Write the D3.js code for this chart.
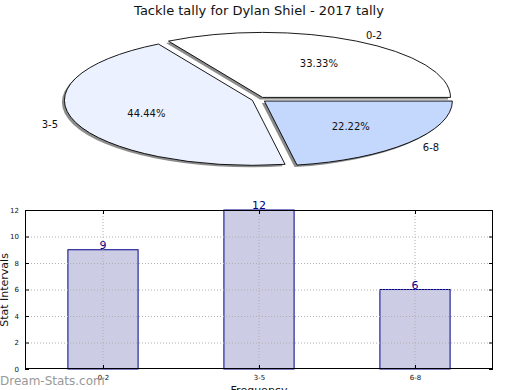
<!DOCTYPE html>
<html><head><meta charset="utf-8">
<script src="https://cdn.jsdelivr.net/npm/d3@7"></script>
<style>body{margin:0;background:#fff}svg{display:block}text{font-family:"DejaVu Sans",sans-serif}</style>
</head><body>
<svg id="c" width="520" height="390"></svg>
<script>
const categories = ["0-2", "3-5", "6-8"];
const values = [9, 12, 6];
const pieColors = ["#ffffff", "#ebf1fe", "#c4d8fd"];
const yTicks = [0, 2, 4, 6, 8, 10, 12];
const title = "Tackle tally for Dylan Shiel - 2017 tally";

const svg = d3.select("#c");
const W = 520;

svg.append("text").attr("x", 259).attr("y", 15).attr("text-anchor", "middle")
  .attr("font-size", 13).attr("fill", "#111").text(title);

// ---------- Pie ----------
const cx = 259, cy = 99.5, rx = 188, ry = 65, explode = 7;
const total = d3.sum(values);
const pie = d3.pie().sort(null).value(d => d)
  .startAngle(Math.PI / 2).endAngle(Math.PI / 2 - 2 * Math.PI); // counter-clockwise from east
const arcs = pie(values);
const arcGen = d3.arc().innerRadius(0).outerRadius(rx);
const sy = ry / rx;
// d3 angle: 0 at 12 o'clock, clockwise. math angle = PI/2 - a
function pt(mathAng, k) { return [Math.cos(mathAng) * rx * k, -Math.sin(mathAng) * ry * k]; }

const pieG = svg.append("g");
arcs.forEach((a, i) => {
  const s = Math.min(a.startAngle, a.endAngle), e = Math.max(a.startAngle, a.endAngle);
  const mid = (s + e) / 2;
  const mathMid = Math.PI / 2 - mid;
  const ox = Math.cos(mathMid) * explode, oy = -Math.sin(mathMid) * explode * sy;
  const d = arcGen({startAngle: s, endAngle: e});
  // shadow
  pieG.append("path").attr("d", d)
    .attr("transform", `translate(${cx + ox - 2.5},${cy + oy + 2}) scale(1,${sy})`)
    .attr("fill", "#8c8c8c").attr("stroke", "none");
});
arcs.forEach((a, i) => {
  const s = Math.min(a.startAngle, a.endAngle), e = Math.max(a.startAngle, a.endAngle);
  const mid = (s + e) / 2;
  const mathMid = Math.PI / 2 - mid;
  const ox = Math.cos(mathMid) * explode, oy = -Math.sin(mathMid) * explode * sy;
  const d = arcGen({startAngle: s, endAngle: e});
  pieG.append("path").attr("d", d)
    .attr("transform", `translate(${cx + ox},${cy + oy}) scale(1,${sy})`)
    .attr("fill", pieColors[i]).attr("stroke", "#000").attr("stroke-width", 0.9)
    .attr("vector-effect", "non-scaling-stroke");
  const [lx, ly] = pt(mathMid, 1.1);
  const [px, py] = pt(mathMid, 0.6);
  pieG.append("text").attr("x", cx + ox + lx).attr("y", cy + oy + ly).attr("dy", "0.35em")
    .attr("text-anchor", Math.cos(mathMid) >= 0 ? "start" : "end")
    .attr("font-size", 10).attr("fill", "#111").text(categories[i]);
  pieG.append("text").attr("x", cx + ox + px).attr("y", cy + oy + py).attr("dy", "0.35em")
    .attr("text-anchor", "middle").attr("font-size", 10).attr("fill", "#111")
    .text((values[i] / total * 100).toFixed(2) + "%");
});

// ---------- Bar ----------
const L = 25, R = 493, T = 210, B = 369;
const x = d3.scaleLinear().domain([-0.5, categories.length - 0.5]).range([L, R]);
const y = d3.scaleLinear().domain([0, 12]).range([B, T]);
const bw = 0.45;
const g = svg.append("g");

g.selectAll("rect.bar").data(values).join("rect").attr("class", "bar")
  .attr("x", (d, i) => x(i - bw / 2)).attr("width", (d, i) => x(i + bw / 2) - x(i - bw / 2))
  .attr("y", d => y(d)).attr("height", d => B - y(d))
  .attr("fill", "#ccccE5").attr("stroke", "#00008b").attr("stroke-width", 1);

// grid
g.selectAll("line.hg").data(yTicks.slice(1, -1)).join("line")
  .attr("x1", L).attr("x2", R).attr("y1", d => y(d) + 0.5).attr("y2", d => y(d) + 0.5)
  .attr("stroke", "#b0b0b0").attr("stroke-dasharray", "1,2").attr("stroke-width", 1);
g.selectAll("line.vg").data(categories).join("line")
  .attr("x1", (d, i) => x(i)).attr("x2", (d, i) => x(i)).attr("y1", T).attr("y2", B)
  .attr("stroke", "#b0b0b0").attr("stroke-dasharray", "1,2").attr("stroke-width", 1);

// frame
g.append("rect").attr("x", L + 0.5).attr("y", T + 0.5).attr("width", R - L - 1).attr("height", B - T - 1)
  .attr("fill", "none").attr("stroke", "#000").attr("stroke-width", 1);

// axes
const yAx = g.append("g").attr("transform", `translate(${L},0)`)
  .call(d3.axisLeft(y).tickValues(yTicks).tickSize(-4).tickPadding(6).tickFormat(d3.format("d")));
yAx.select(".domain").remove();
yAx.selectAll("text").attr("font-size", 7).attr("fill", "#111").attr("font-family", "DejaVu Sans");
const yAxR = g.append("g").attr("transform", `translate(${R},0)`)
  .call(d3.axisRight(y).tickValues(yTicks).tickSize(-4).tickFormat(""));
yAxR.select(".domain").remove();

const xAx = g.append("g").attr("transform", `translate(0,${B})`)
  .call(d3.axisBottom(x).tickValues(d3.range(categories.length)).tickSize(-4).tickPadding(6)
    .tickFormat(i => categories[i]));
xAx.select(".domain").remove();
xAx.selectAll("text").attr("font-size", 7).attr("fill", "#111").attr("font-family", "DejaVu Sans");
const xAxT = g.append("g").attr("transform", `translate(0,${T})`)
  .call(d3.axisTop(x).tickValues(d3.range(categories.length)).tickSize(-4).tickFormat(""));
xAxT.select(".domain").remove();

// value labels
g.selectAll("text.val").data(values).join("text")
  .attr("x", (d, i) => x(i)).attr("y", d => y(d) - 1).attr("text-anchor", "middle")
  .attr("font-size", 11).attr("fill", "#00008b").text(d => d);

svg.append("text").attr("x", 259).attr("y", 394).attr("text-anchor", "middle")
  .attr("font-size", 11).attr("fill", "#111").text("Frequency");
svg.append("text").attr("transform", "translate(8,290) rotate(-90)").attr("text-anchor", "middle")
  .attr("font-size", 11).attr("fill", "#111").text("Stat Intervals");
svg.append("text").attr("x", 0).attr("y", 385).attr("font-size", 12).attr("fill", "#999")
  .text("Dream-Stats.com");
</script>
</body></html>
